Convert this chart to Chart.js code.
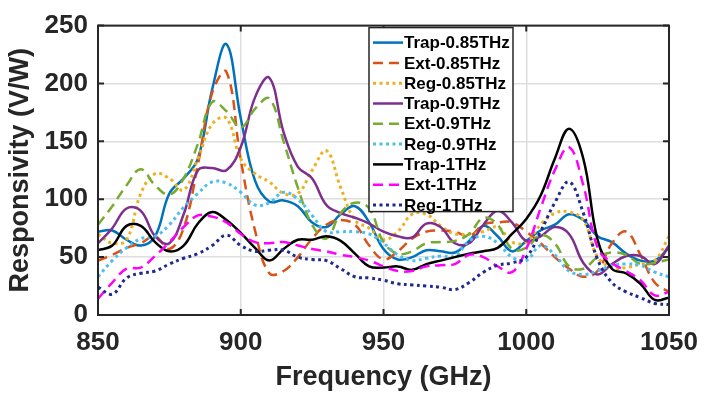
<!DOCTYPE html>
<html>
<head>
<meta charset="utf-8">
<script src="https://cdn.jsdelivr.net/npm/chart.js@4/dist/chart.umd.min.js"></script>
<style>
  html, body { margin: 0; padding: 0; background: #fff; }
  #wrap { width: 704px; height: 395px; }
</style>
</head>
<body>
<div id="wrap"><canvas id="resp"></canvas></div>
<script>
// frequency samples (GHz)
const freq = [850, 855, 860, 865, 870, 875, 880, 885, 890, 895, 900, 905, 910, 915, 920, 925, 930, 935, 940, 945,
              950, 955, 960, 965, 970, 975, 980, 985, 990, 995, 1000, 1005, 1010, 1015, 1020, 1025, 1030, 1035, 1040, 1045, 1050];

const xTicks = [850, 900, 950, 1000, 1050];
const yTicks = [0, 50, 100, 150, 200, 250];

const labels = ['Trap-0.85THz', 'Ext-0.85THz', 'Reg-0.85THz',
                'Trap-0.9THz', 'Ext-0.9THz', 'Reg-0.9THz',
                'Trap-1THz', 'Ext-1THz', 'Reg-1THz'];

// responsivity (V/W)
const trap085 = [72, 73, 65, 60, 68, 105, 118, 135, 195, 234, 170, 116, 98, 99, 94, 80, 76, 87, 94, 80,
                 57, 48, 50, 56, 55, 54, 64, 77, 68, 55, 64, 73, 78, 87, 82, 68, 63, 53, 47, 47, 58];
const ext085  = [47, 52, 58, 62, 68, 57, 75, 130, 192, 210, 134, 73, 36, 38, 50, 66, 78, 82, 78, 60,
                 48, 55, 66, 72, 73, 72, 68, 78, 80, 80, 72, 62, 50, 40, 33, 38, 62, 72, 52, 28, 20];
const reg085  = [70, 62, 65, 105, 122, 118, 108, 135, 165, 170, 135, 122, 115, 105, 105, 125, 142, 110, 82, 75,
                 65, 72, 87, 87, 77, 70, 70, 72, 76, 63, 63, 78, 88, 89, 82, 50, 41, 41, 44, 47, 68];
const trap09  = [62, 75, 92, 90, 68, 62, 87, 125, 127, 125, 145, 188, 205, 158, 128, 118, 95, 88, 84, 79,
                 72, 68, 67, 79, 76, 62, 62, 78, 90, 80, 64, 68, 76, 70, 45, 35, 44, 51, 51, 44, 60];
const ext09   = [78, 94, 112, 126, 112, 104, 118, 148, 184, 176, 162, 178, 187, 150, 110, 78, 66, 88, 97, 92,
                 63, 53, 55, 62, 63, 64, 70, 84, 78, 57, 58, 69, 62, 42, 40, 50, 54, 52, 44, 45, 48];
const reg09   = [33, 47, 58, 66, 68, 78, 93, 105, 115, 114, 106, 95, 97, 106, 100, 86, 72, 72, 72, 70,
                 62, 52, 47, 49, 51, 51, 64, 68, 62, 50, 47, 60, 52, 38, 35, 38, 43, 44, 43, 37, 33];
const trap1   = [56, 60, 77, 77, 63, 55, 60, 79, 89, 82, 71, 58, 47, 57, 65, 65, 68, 64, 53, 42,
                 41, 42, 39, 44, 47, 50, 53, 55, 58, 70, 83, 103, 135, 161, 135, 65, 40, 36, 27, 13, 15];
const ext1    = [14, 28, 40, 41, 51, 63, 76, 86, 85, 80, 70, 63, 62, 63, 60, 57, 55, 52, 50, 47,
                 42, 38, 38, 42, 43, 44, 52, 50, 42, 37, 57, 92, 125, 145, 112, 58, 45, 38, 30, 17, 20];
const reg1    = [24, 18, 32, 36, 38, 44, 49, 53, 60, 69, 60, 55, 56, 56, 50, 48, 47, 40, 33, 32,
                 30, 27, 26, 25, 24, 22, 28, 37, 43, 45, 50, 72, 97, 115, 88, 48, 28, 20, 15, 10, 9];

const series = [trap085, ext085, reg085, trap09, ext09, reg09, trap1, ext1, reg1];
const colors = ['#0072BD', '#D95319', '#EDB120', '#7E2F8E', '#77AC30', '#4DBEEE', '#000000', '#FF00FF', '#1F2A8C'];

const DASH = [10, 6];
const DOT = [3, 3.5];
const styles = [[], DASH, DOT, [], DASH, DOT, [], DASH, DOT];

const font = 'Liberation Sans, Arial, sans-serif';

const datasets = series.map(function (vals, i) {
    return {
        label: labels[i],
        data: freq.map(function (f, k) { return {x: f, y: vals[k]}; }),
        borderColor: colors[i],
        borderDash: styles[i],
        borderWidth: styles[i] === DOT ? 3 : 2.5,
        pointRadius: 0,
        tension: 0.4,
        fill: false,
        order: series.length - i
    };
});

// axes box, inner ticks and legend, MATLAB style
const boxPlugin = {
    id: 'box',
    afterDatasetsDraw(chart) {
        const ctx = chart.ctx;
        const a = chart.chartArea;
        const x = chart.scales.x, y = chart.scales.y;
        ctx.save();
        ctx.strokeStyle = '#262626';
        ctx.lineWidth = 2;
        ctx.setLineDash([]);
        ctx.strokeRect(a.left, a.top, a.right - a.left, a.bottom - a.top);
        ctx.beginPath();
        xTicks.forEach(function (v) {
            const px = x.getPixelForValue(v);
            ctx.moveTo(px, a.bottom); ctx.lineTo(px, a.bottom - 6);
            ctx.moveTo(px, a.top); ctx.lineTo(px, a.top + 6);
        });
        yTicks.forEach(function (v) {
            const py = y.getPixelForValue(v);
            ctx.moveTo(a.left, py); ctx.lineTo(a.left + 6, py);
            ctx.moveTo(a.right, py); ctx.lineTo(a.right - 6, py);
        });
        ctx.stroke();

        // legend
        const lx = a.left + 271, ly = a.top + 2, lw = 144, lh = 184;
        ctx.fillStyle = '#fff';
        ctx.fillRect(lx, ly, lw, lh);
        ctx.lineWidth = 1.5;
        ctx.strokeRect(lx, ly, lw, lh);
        ctx.font = 'bold 17px ' + font;
        ctx.textBaseline = 'middle';
        ctx.textAlign = 'left';
        chart.data.datasets.forEach(function (ds, i) {
            const cy = ly + 15 + i * 20.3;
            ctx.beginPath();
            ctx.strokeStyle = ds.borderColor;
            ctx.lineWidth = ds.borderWidth;
            ctx.setLineDash(ds.borderDash);
            ctx.moveTo(lx + 4, cy);
            ctx.lineTo(lx + 34, cy);
            ctx.stroke();
            ctx.setLineDash([]);
            ctx.fillStyle = '#000';
            ctx.fillText(ds.label, lx + 35, cy + 1);
        });
        ctx.restore();
    }
};

new Chart(document.getElementById('resp').getContext('2d'), {
    type: 'line',
    data: {datasets: datasets},
    options: {
        responsive: true,
        maintainAspectRatio: false,
        animation: false,
        layout: {padding: {left: 0, right: 35, top: 13, bottom: 0}},
        plugins: {legend: {display: false}, tooltip: {enabled: false}},
        scales: {
            x: {
                type: 'linear',
                min: 850, max: 1050,
                afterBuildTicks: function (s) { s.ticks = xTicks.map(function (v) { return {value: v}; }); },
                afterFit: function (s) { s.height = 80; s.paddingLeft = 0; s.paddingRight = 0; },
                grid: {color: '#dedede', lineWidth: 1.5, drawTicks: false},
                border: {display: false},
                ticks: {color: '#262626', padding: 12, maxRotation: 0,
                        callback: function (v) { return String(v); },
                        font: {family: font, size: 26, weight: 'bold'}},
                title: {display: true, text: 'Frequency (GHz)', color: '#262626', padding: {top: 0, bottom: 1},
                        font: {family: font, size: 27, weight: 'bold'}}
            },
            y: {
                min: 0, max: 250,
                afterBuildTicks: function (s) { s.ticks = yTicks.map(function (v) { return {value: v}; }); },
                afterFit: function (s) { s.width = 98; },
                grid: {color: '#dedede', lineWidth: 1.5, drawTicks: false},
                border: {display: false},
                ticks: {color: '#262626', padding: 10,
                        callback: function (v) { return String(v); },
                        font: {family: font, size: 26, weight: 'bold'}},
                title: {display: true, text: 'Responsivity (V/W)', color: '#262626', padding: {top: 4, bottom: 0},
                        font: {family: font, size: 27, weight: 'bold'}}
            }
        }
    },
    plugins: [boxPlugin]
});
</script>
</body>
</html>
